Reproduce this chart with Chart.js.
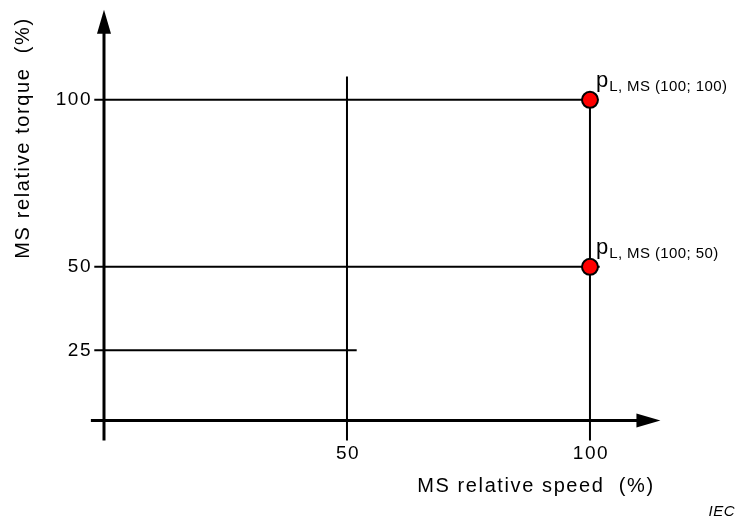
<!DOCTYPE html>
<html>
<head>
<meta charset="utf-8">
<script src="https://cdn.jsdelivr.net/npm/chart.js@4"></script>
<style>
  html, body { margin: 0; padding: 0; background: #fff; }
  #wrap { width: 736px; height: 519px; }
</style>
</head>
<body>
<div id="wrap"><canvas id="chart"></canvas></div>
<script>
const xTicks = [50, 100];
const yTicks = [100, 50, 25];

const points = [{ x: 100, y: 100 }, { x: 100, y: 50 }];
const pointLabels = ['(100; 100)', '(100; 50)'];

// guide lines in data units
const guides = [
  [{ x: -2, y: 100 }, { x: 100, y: 100 }],
  [{ x: -2, y: 50 }, { x: 102, y: 50 }],
  [{ x: -2, y: 25 }, { x: 52, y: 25 }],
  [{ x: 50, y: -2 }, { x: 50, y: 107 }],
  [{ x: 100, y: -2 }, { x: 100, y: 100 }]
];

const xAxisLine = [{ x: -2.7, y: 4 }, { x: 114.5, y: 4 }];
const yAxisLine = [{ x: 0, y: -2 }, { x: 0, y: 127 }];

// points first so they are drawn on top of the lines
const datasets = [{
  data: points,
  showLine: false,
  pointRadius: 8,
  pointBackgroundColor: '#ff0000',
  pointBorderColor: '#000',
  pointBorderWidth: 2
}];

guides.forEach(g => datasets.push({
  data: g,
  showLine: true,
  borderColor: '#000',
  borderWidth: 2,
  pointRadius: 0
}));

const FONT = '"Liberation Sans", Arial, sans-serif';

const axesPlugin = {
  id: 'axes',
  beforeDatasetsDraw(chart) {
    const c = chart.ctx;
    const xs = chart.scales.x, ys = chart.scales.y;
    const px = v => xs.getPixelForValue(v);
    const py = v => ys.getPixelForValue(v);
    c.save();
    c.strokeStyle = '#000';
    c.fillStyle = '#000';
    c.lineWidth = 3;

    // x axis with arrow
    const xa = py(xAxisLine[0].y);
    const xe = px(xAxisLine[1].x);
    c.beginPath();
    c.moveTo(px(xAxisLine[0].x), xa);
    c.lineTo(xe - 18, xa);
    c.stroke();
    c.beginPath();
    c.moveTo(xe, xa);
    c.lineTo(xe - 24, xa - 7);
    c.lineTo(xe - 24, xa + 7);
    c.closePath();
    c.fill();

    // y axis with arrow
    const ya = px(yAxisLine[0].x);
    const ye = py(yAxisLine[1].y);
    c.beginPath();
    c.moveTo(ya, py(yAxisLine[0].y));
    c.lineTo(ya, ye + 18);
    c.stroke();
    c.beginPath();
    c.moveTo(ya, ye);
    c.lineTo(ya - 7, ye + 24);
    c.lineTo(ya + 7, ye + 24);
    c.closePath();
    c.fill();
    c.restore();
  },
  afterDatasetsDraw(chart) {
    const c = chart.ctx;
    const xs = chart.scales.x, ys = chart.scales.y;
    const px = v => xs.getPixelForValue(v);
    const py = v => ys.getPixelForValue(v);
    c.save();
    c.fillStyle = '#000';

    // tick labels
    c.font = '19px ' + FONT;
    c.letterSpacing = '1.5px';
    c.textBaseline = 'middle';
    c.textAlign = 'right';
    yTicks.forEach(t => c.fillText(String(t), 92, py(t)));
    c.textAlign = 'center';
    c.textBaseline = 'alphabetic';
    xTicks.forEach(t => c.fillText(String(t), px(t) + 1, 459));

    // axis titles
    c.font = '20px ' + FONT;
    c.letterSpacing = '1.6px';
    c.fillText('MS relative speed  (%)', 536, 492);
    c.save();
    c.translate(29, 138);
    c.rotate(-Math.PI / 2);
    c.fillText('MS relative torque  (%)', 0, 0);
    c.restore();

    // point labels
    c.textAlign = 'left';
    points.forEach((p, i) => {
      const x0 = px(p.x) + 6;
      const y0 = py(p.y) - 13;
      c.font = '22px ' + FONT;
      c.letterSpacing = '0px';
      c.fillText('p', x0, y0);
      const w = c.measureText('p').width;
      c.font = '15px ' + FONT;
      c.letterSpacing = '0.4px';
      c.fillText('L, MS ' + pointLabels[i], x0 + w + 1, y0 + 4);
    });

    c.font = 'italic 15px ' + FONT;
    c.letterSpacing = '0.5px';
    c.textAlign = 'right';
    c.fillText('IEC', 735, 516);
    c.restore();
  }
};

new Chart(document.getElementById('chart'), {
  type: 'scatter',
  data: { datasets: datasets },
  options: {
    responsive: true,
    maintainAspectRatio: false,
    animation: false,
    layout: { padding: 0, autoPadding: false },
    plugins: { legend: { display: false }, tooltip: { enabled: false } },
    scales: {
      x: { type: 'linear', display: false, min: -21.4, max: 130.05 },
      y: { type: 'linear', display: false, min: -25.5, max: 129.9 }
    }
  },
  plugins: [axesPlugin]
});
</script>
</body>
</html>
